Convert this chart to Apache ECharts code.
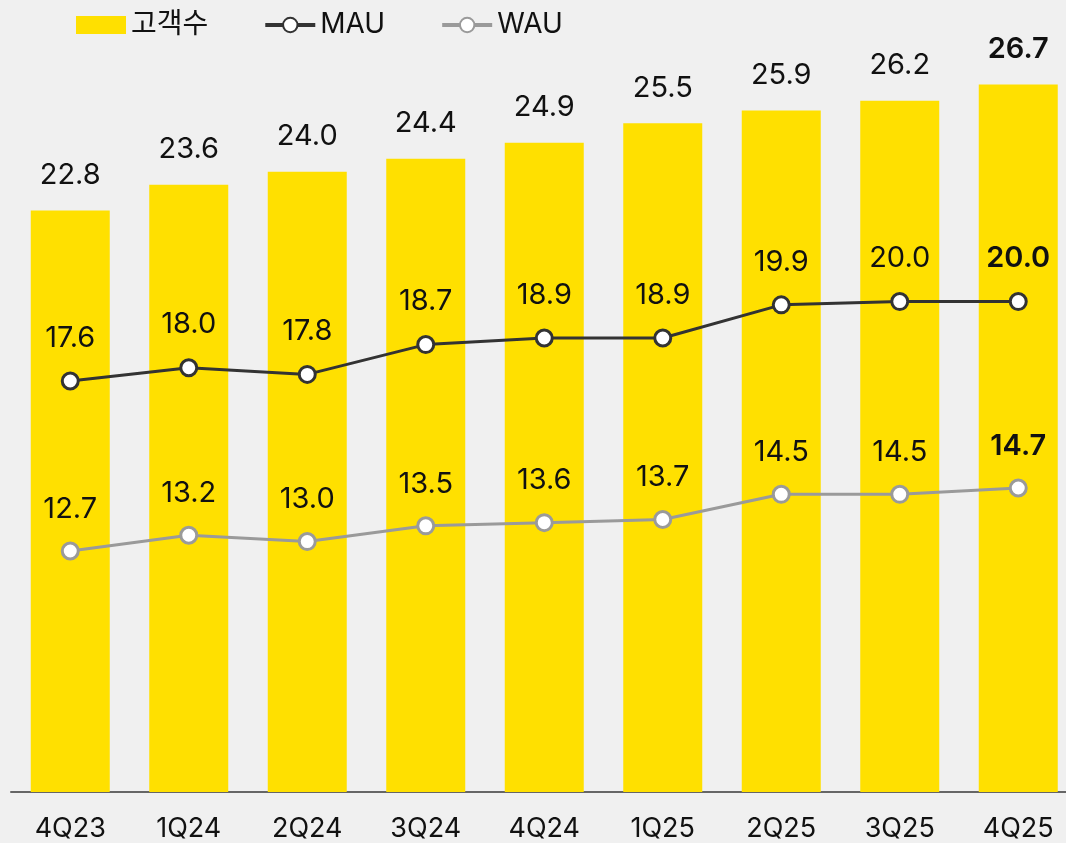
<!DOCTYPE html>
<html>
<head>
<meta charset="utf-8">
<script src="https://cdn.jsdelivr.net/npm/echarts@6/dist/echarts.min.js"></script>
<style>
  html, body { margin: 0; padding: 0; background: #f0f0f0; }
  #chart { width: 1066px; height: 843px; }
</style>
</head>
<body>
<div id="chart"></div>
<script>
const quarters = ['4Q23', '1Q24', '2Q24', '3Q24', '4Q24', '1Q25', '2Q25', '3Q25', '4Q25'];
const customers = [22.8, 23.6, 24.0, 24.4, 24.9, 25.5, 25.9, 26.2, 26.7];
const mau = [17.6, 18.0, 17.8, 18.7, 18.9, 18.9, 19.9, 20.0, 20.0];
const wau = [12.7, 13.2, 13.0, 13.5, 13.6, 13.7, 14.5, 14.5, 14.7];

const kFont = 'Inter, "Noto Sans CJK KR", sans-serif';
const lastIdx = quarters.length - 1;

// 마지막 분기 라벨만 굵게
function withBoldLast(values) {
  return values.map((v, i) => i === lastIdx ? { value: v, label: { fontWeight: 600 } } : v);
}

const chart = echarts.init(document.getElementById('chart'));

const labelStyle = {
  show: true,
  position: 'top',
  color: '#111',
  fontSize: 29,
  fontFamily: kFont,
  formatter: p => p.value.toFixed(1),
};

const option = {
  backgroundColor: '#f0f0f0',
  animation: false,
  legend: {
    left: 71,
    top: 6,
    itemWidth: 50,
    itemHeight: 18,
    itemGap: 55,
    textStyle: { fontSize: 28, color: '#111', fontFamily: kFont },
    data: [
      { name: '고객수', icon: 'rect' },
      { name: 'MAU', lineStyle: { width: 4 } },
      { name: 'WAU', lineStyle: { width: 4 } },
    ],
  },
  grid: { left: 11, width: 1066.5, top: 60, height: 732, outerBoundsMode: 'none', containLabel: false },
  xAxis: {
    type: 'category',
    data: quarters,
    axisLine: { lineStyle: { color: '#666', width: 2 } },
    axisTick: { show: false },
    axisLabel: { color: '#111', fontSize: 27, fontFamily: kFont, margin: 23 },
  },
  yAxis: [
    { type: 'value', min: 4.8, max: 27.46, show: false, splitLine: { show: false } },
    { type: 'value', min: 5.183, max: 27.298, show: false, splitLine: { show: false } },
    { type: 'value', min: 5.049, max: 28.287, show: false, splitLine: { show: false } },
  ],
  series: [
    {
      name: '고객수',
      type: 'bar',
      yAxisIndex: 0,
      barWidth: 79,
      itemStyle: { color: '#ffe000' },
      label: Object.assign({}, labelStyle, { distance: 21 }),
      data: withBoldLast(customers),
    },
    {
      name: 'MAU',
      type: 'line',
      yAxisIndex: 1,
      symbol: 'circle',
      symbolSize: 16,
      lineStyle: { color: '#333', width: 3 },
      itemStyle: { color: '#fff', borderColor: '#333', borderWidth: 3 },
      label: Object.assign({}, labelStyle, { distance: 19 }),
      data: withBoldLast(mau),
    },
    {
      name: 'WAU',
      type: 'line',
      yAxisIndex: 2,
      symbol: 'circle',
      symbolSize: 16,
      lineStyle: { color: '#9a9a9a', width: 3 },
      itemStyle: { color: '#fff', borderColor: '#9a9a9a', borderWidth: 3 },
      label: Object.assign({}, labelStyle, { distance: 18 }),
      data: withBoldLast(wau),
    },
  ],
};

chart.setOption(option);
</script>
</body>
</html>
